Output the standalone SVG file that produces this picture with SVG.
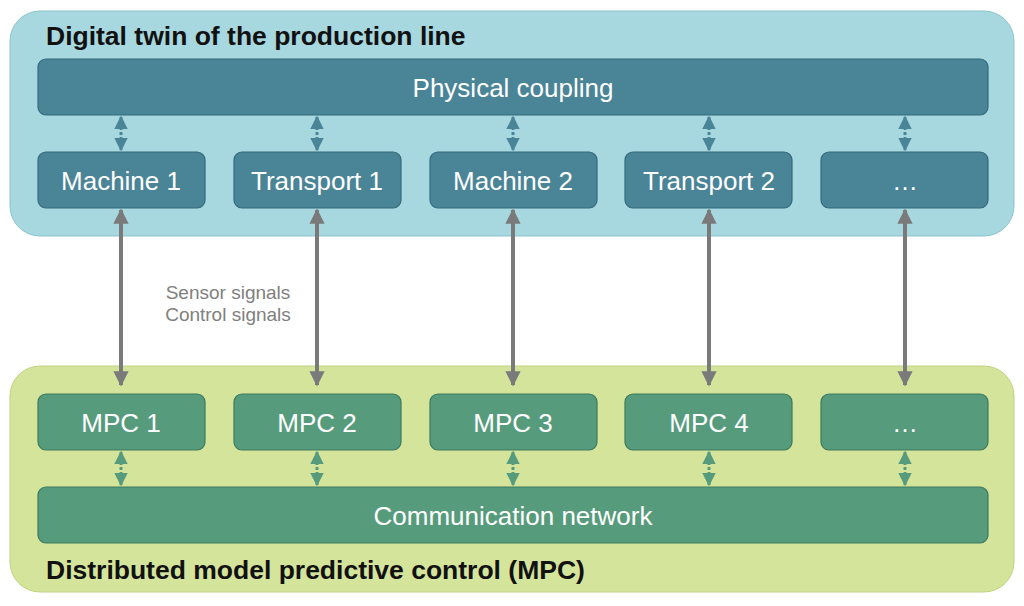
<svg xmlns="http://www.w3.org/2000/svg" width="1024" height="606" viewBox="0 0 1024 606">
<style>
.t{font-family:"Liberation Sans",Arial,sans-serif;font-size:26px;fill:#fff;text-anchor:middle}
.h{font-family:"Liberation Sans",Arial,sans-serif;font-size:26.5px;font-weight:bold;fill:#111}
.b{fill:#4a8497;stroke:#326b7c;stroke-width:1.2}
.g{fill:#579b7d;stroke:#3c7a5e;stroke-width:1.2}
.l{font-family:"Liberation Sans",Arial,sans-serif;font-size:19px;fill:#808080;text-anchor:middle}
</style>
<defs>
<marker id="ga" viewBox="0 0 10 10" refX="9" refY="5" markerWidth="4" markerHeight="3.8" orient="auto-start-reverse"><path d="M0,0L10,5L0,10z" fill="#7a7a7a"/></marker>
<marker id="ba" viewBox="0 0 10 10" refX="9" refY="5" markerWidth="4.5" markerHeight="5.5" orient="auto-start-reverse"><path d="M0,0L10,5L0,10z" fill="#4a8497"/></marker>
<marker id="gr" viewBox="0 0 10 10" refX="9" refY="5" markerWidth="4.5" markerHeight="5.5" orient="auto-start-reverse"><path d="M0,0L10,5L0,10z" fill="#579b7d"/></marker>
</defs>
<g id="panel-top"><rect x="10" y="11" width="1004" height="225" rx="30" fill="#a7d7df" stroke="#8cc5cf"/><text class="h" x="46" y="45">Digital twin of the production line</text></g>
<g id="panel-bottom"><rect x="10" y="366" width="1004" height="226" rx="30" fill="#d4e49b" stroke="#bfd382"/><text class="h" x="46" y="579">Distributed model predictive control (MPC)</text></g>
<g id="coupling"><rect class="b" x="38" y="59" width="950" height="56" rx="8"/><text class="t" x="513" y="97">Physical coupling</text></g>
<g id="m1"><rect class="b" x="38" y="152" width="167" height="56" rx="8"/><text class="t" x="121" y="190">Machine 1</text></g>
<g id="t1"><rect class="b" x="234" y="152" width="167" height="56" rx="8"/><text class="t" x="317" y="190">Transport 1</text></g>
<g id="m2"><rect class="b" x="430" y="152" width="167" height="56" rx="8"/><text class="t" x="513" y="190">Machine 2</text></g>
<g id="t2"><rect class="b" x="625" y="152" width="167" height="56" rx="8"/><text class="t" x="709" y="190">Transport 2</text></g>
<g id="e1"><rect class="b" x="821" y="152" width="167" height="56" rx="8"/><text class="t" x="905" y="190">…</text></g>
<g id="mpc1"><rect class="g" x="38" y="394" width="167" height="56" rx="8"/><text class="t" x="121" y="432">MPC 1</text></g>
<g id="mpc2"><rect class="g" x="234" y="394" width="167" height="56" rx="8"/><text class="t" x="317" y="432">MPC 2</text></g>
<g id="mpc3"><rect class="g" x="430" y="394" width="167" height="56" rx="8"/><text class="t" x="513" y="432">MPC 3</text></g>
<g id="mpc4"><rect class="g" x="625" y="394" width="167" height="56" rx="8"/><text class="t" x="709" y="432">MPC 4</text></g>
<g id="e2"><rect class="g" x="821" y="394" width="167" height="56" rx="8"/><text class="t" x="905" y="432">…</text></g>
<g id="comm"><rect class="g" x="38" y="487" width="950" height="56" rx="8"/><text class="t" x="513" y="525">Communication network</text></g>
<g id="connectors" fill="none">
<g stroke="#7a7a7a" stroke-width="4" marker-start="url(#ga)" marker-end="url(#ga)">
<path d="M121,210V385"/><path d="M317,210V385"/><path d="M513,210V385"/><path d="M709,210V385"/><path d="M905,210V385"/>
</g>
<g stroke="#4a8497" stroke-width="3" stroke-dasharray="3,2" marker-start="url(#ba)" marker-end="url(#ba)">
<path d="M121,117V150"/><path d="M317,117V150"/><path d="M513,117V150"/><path d="M709,117V150"/><path d="M905,117V150"/>
</g>
<g stroke="#579b7d" stroke-width="3" stroke-dasharray="3,2" marker-start="url(#gr)" marker-end="url(#gr)">
<path d="M121,452V485"/><path d="M317,452V485"/><path d="M513,452V485"/><path d="M709,452V485"/><path d="M905,452V485"/>
</g>
<text class="l" x="228" y="299">Sensor signals</text>
<text class="l" x="228" y="321">Control signals</text>
</g>
</svg>
